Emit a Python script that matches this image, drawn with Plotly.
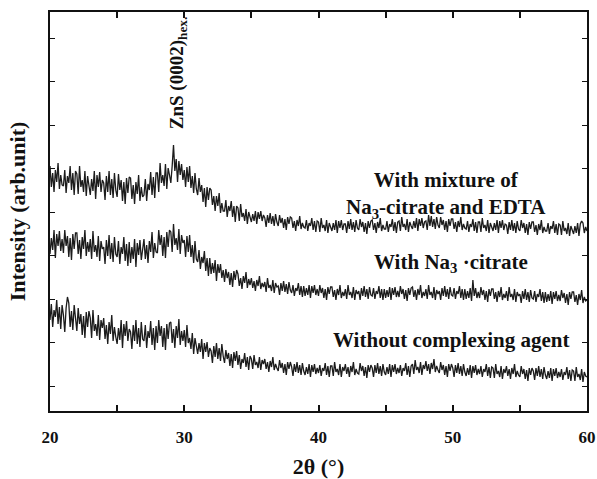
import plotly.graph_objects as go

# 2-theta grid: 20.0 .. 60.0 in 0.1 steps (401 points)
two_theta = [round(20 + i * 0.1, 1) for i in range(401)]

mixture = [
245, 224, 238, 219, 241, 229, 248, 222, 236, 226,
225, 241, 218, 235, 228, 245, 221, 238, 216, 240,
237, 217, 245, 224, 231, 219, 240, 215, 235, 227,
216, 232, 220, 240, 212, 236, 224, 239, 219, 231,
228, 211, 235, 219, 240, 216, 232, 213, 238, 221,
214, 237, 221, 231, 210, 229, 207, 233, 218, 234,
233, 212, 226, 207, 229, 217, 236, 210, 224, 214,
216, 232, 210, 227, 221, 239, 216, 234, 213, 238,
238, 219, 248, 228, 236, 225, 247, 222, 243, 236,
228, 245, 266, 240, 252, 229, 250, 236, 247, 231,
241, 224, 244, 229, 245, 223, 235, 218, 238, 222,
216, 233, 219, 226, 209, 223, 204, 224, 211, 223,
221, 206, 215, 200, 215, 205, 218, 198, 208, 200,
200, 211, 194, 205, 200, 210, 194, 205, 189, 205,
203, 190, 207, 194, 198, 190, 202, 187, 199, 194,
189, 197, 190, 200, 187, 199, 192, 200, 190, 196,
193, 184, 196, 188, 198, 187, 195, 185, 197, 189,
185, 196, 188, 193, 183, 192, 181, 194, 187, 194,
193, 183, 190, 180, 191, 185, 195, 182, 188, 184,
183, 191, 180, 188, 185, 193, 181, 190, 179, 190,
189, 179, 193, 183, 186, 180, 191, 178, 188, 184,
180, 188, 181, 191, 178, 190, 183, 191, 181, 187,
187, 178, 190, 182, 192, 181, 189, 179, 191, 183,
181, 192, 184, 189, 179, 188, 177, 190, 183, 190,
191, 181, 188, 178, 189, 183, 193, 180, 186, 182,
182, 190, 179, 187, 184, 192, 180, 189, 178, 189,
190, 180, 194, 184, 187, 181, 192, 179, 189, 185,
182, 190, 183, 193, 180, 192, 185, 193, 183, 189,
190, 181, 196, 185, 195, 184, 192, 182, 194, 186,
183, 194, 186, 191, 181, 190, 179, 192, 185, 192,
192, 182, 189, 179, 190, 184, 194, 181, 187, 183,
182, 190, 179, 187, 184, 192, 180, 189, 178, 189,
189, 179, 193, 183, 186, 180, 191, 178, 188, 184,
180, 188, 181, 191, 178, 190, 183, 191, 181, 187,
186, 177, 189, 181, 191, 180, 188, 178, 190, 182,
180, 191, 183, 188, 178, 187, 176, 189, 182, 189,
189, 179, 186, 176, 187, 181, 191, 178, 184, 180,
180, 188, 177, 185, 182, 190, 178, 187, 176, 187,
186, 176, 190, 180, 183, 177, 188, 175, 185, 181,
177, 185, 178, 188, 175, 187, 190, 188, 178, 184,
180]

na3_citrate = [
157, 173, 161, 181, 153, 177, 165, 180, 160, 172,
158, 181, 165, 175, 154, 173, 151, 177, 162, 178,
178, 157, 171, 152, 174, 162, 181, 155, 169, 159,
172, 152, 180, 159, 166, 154, 175, 150, 170, 162,
164, 147, 171, 155, 176, 152, 168, 149, 174, 157,
154, 170, 147, 164, 157, 174, 150, 167, 145, 169,
148, 164, 152, 172, 144, 168, 156, 171, 151, 163,
172, 152, 166, 148, 170, 159, 179, 153, 168, 159,
158, 181, 166, 176, 155, 174, 153, 179, 164, 181,
179, 159, 187, 166, 173, 161, 182, 157, 176, 168,
171, 154, 175, 159, 176, 154, 166, 148, 170, 152,
149, 161, 142, 154, 148, 160, 140, 153, 135, 153,
137, 148, 138, 151, 130, 147, 138, 147, 133, 141,
129, 142, 133, 139, 126, 138, 124, 140, 131, 141,
137, 125, 133, 122, 135, 128, 139, 123, 132, 126,
133, 123, 130, 120, 131, 125, 135, 122, 128, 124,
129, 119, 133, 123, 126, 120, 131, 118, 128, 124,
125, 116, 128, 120, 130, 119, 127, 117, 129, 121,
118, 126, 115, 123, 120, 128, 116, 125, 114, 125,
115, 123, 116, 126, 113, 125, 118, 126, 116, 122,
115, 126, 118, 123, 113, 122, 111, 124, 117, 124,
124, 114, 121, 111, 122, 116, 126, 113, 119, 115,
122, 112, 126, 116, 119, 113, 124, 111, 121, 117,
120, 111, 123, 115, 125, 114, 122, 112, 124, 116,
115, 123, 112, 120, 117, 125, 113, 122, 111, 122,
113, 121, 114, 124, 111, 123, 116, 124, 114, 120,
114, 125, 117, 122, 112, 121, 110, 123, 116, 123,
124, 114, 121, 111, 122, 116, 126, 113, 119, 115,
122, 112, 126, 116, 119, 113, 124, 111, 121, 117,
120, 111, 123, 115, 125, 114, 122, 112, 124, 116,
115, 123, 112, 120, 117, 125, 113, 122, 111, 122,
112, 120, 113, 123, 110, 131, 115, 123, 113, 119,
113, 124, 116, 121, 111, 120, 109, 122, 115, 122,
122, 112, 119, 109, 120, 114, 124, 111, 117, 113,
120, 110, 124, 114, 117, 111, 122, 109, 119, 115,
117, 108, 120, 112, 122, 111, 119, 109, 121, 113,
112, 120, 109, 117, 114, 122, 110, 119, 108, 119,
109, 117, 110, 120, 107, 119, 112, 120, 110, 116,
110, 121, 113, 118, 108, 117, 106, 119, 112, 119,
119, 109, 116, 106, 117, 111, 121, 108, 114, 110,
111]

no_agent = [
91, 107, 84, 101, 94, 111, 87, 104, 82, 106,
96, 79, 103, 114, 108, 84, 100, 81, 106, 89,
80, 103, 87, 97, 76, 95, 73, 99, 84, 100,
93, 73, 101, 80, 87, 75, 96, 71, 91, 83,
93, 72, 86, 67, 89, 77, 96, 70, 84, 74,
67, 83, 71, 91, 63, 87, 75, 90, 70, 82,
79, 62, 86, 70, 91, 67, 83, 64, 89, 72,
70, 86, 63, 80, 73, 90, 66, 83, 61, 85,
68, 91, 75, 85, 64, 83, 61, 87, 72, 88,
89, 68, 82, 63, 85, 73, 92, 66, 80, 70,
81, 64, 86, 68, 73, 62, 78, 57, 73, 65,
57, 68, 59, 72, 52, 68, 59, 69, 54, 63,
60, 48, 65, 54, 68, 52, 63, 50, 67, 55,
48, 61, 52, 58, 45, 57, 43, 59, 50, 60,
46, 56, 42, 52, 48, 58, 44, 54, 41, 55,
52, 42, 56, 46, 49, 43, 54, 41, 51, 47,
52, 42, 49, 39, 50, 44, 54, 41, 47, 43,
40, 51, 43, 48, 38, 47, 36, 49, 42, 49,
44, 35, 47, 39, 49, 38, 46, 36, 48, 40,
36, 44, 37, 47, 34, 46, 39, 47, 37, 43,
38, 46, 35, 43, 40, 48, 36, 45, 34, 45,
45, 35, 49, 39, 42, 36, 47, 34, 44, 40,
47, 37, 44, 34, 45, 39, 49, 36, 42, 38,
37, 48, 40, 45, 35, 44, 33, 46, 39, 46,
43, 34, 46, 38, 48, 37, 45, 35, 47, 39,
36, 44, 37, 47, 34, 46, 39, 47, 37, 43,
38, 46, 35, 43, 40, 48, 36, 45, 34, 45,
47, 37, 51, 41, 44, 38, 49, 36, 46, 42,
50, 40, 47, 37, 48, 42, 52, 39, 45, 41,
38, 49, 41, 46, 36, 45, 34, 47, 40, 47,
43, 34, 46, 38, 48, 37, 45, 35, 47, 39,
35, 43, 36, 46, 33, 45, 38, 46, 36, 42,
37, 45, 34, 42, 39, 47, 35, 44, 33, 44,
43, 33, 47, 37, 40, 34, 45, 32, 42, 38,
45, 35, 42, 32, 43, 37, 47, 34, 40, 36,
34, 45, 37, 42, 32, 41, 30, 43, 36, 43,
40, 31, 43, 35, 45, 34, 42, 32, 44, 36,
32, 40, 33, 43, 30, 42, 35, 43, 33, 39,
34, 42, 31, 39, 36, 44, 32, 41, 30, 41,
40, 30, 44, 34, 37, 31, 42, 29, 39, 35,
34]

x_ticks = [20, 30, 40, 50, 60]

FONT = "Liberation Serif"
INK = "#111111"
LINE = "#1c1c1c"

fig = go.Figure()
for ys in (mixture, na3_citrate, no_agent):
    fig.add_trace(go.Scatter(x=two_theta, y=ys, mode="lines",
                             line=dict(color=LINE, width=1.3),
                             showlegend=False, hoverinfo="skip"))

fig.add_annotation(x=29.55, y=338, xref="x", yref="y", text="<b>ZnS (0002)<sub>hex.</sub></b>",
                   textangle=-90, showarrow=False, font=dict(family=FONT, size=19, color=INK))
fig.add_annotation(x=49.5, y=216, xref="x", yref="y",
                   text="<b>With mixture of</b><br><b>Na<sub>3</sub>-citrate and EDTA</b>",
                   showarrow=False, align="center", font=dict(family=FONT, size=21, color=INK))
fig.add_annotation(x=49.9, y=148, xref="x", yref="y", text="<b>With Na<sub>3</sub> ·citrate</b>",
                   showarrow=False, font=dict(family=FONT, size=21, color=INK))
fig.add_annotation(x=49.9, y=71, xref="x", yref="y", text="<b>Without complexing agent</b>",
                   showarrow=False, font=dict(family=FONT, size=21, color=INK))

fig.update_layout(
    width=597, height=479,
    margin=dict(l=50, r=10, t=12, b=68),
    paper_bgcolor="white", plot_bgcolor="white",
    font=dict(family=FONT, color=INK),
    xaxis=dict(range=[20, 60], tickmode="array", tickvals=x_ticks,
               ticktext=[f"<b>{v}</b>" for v in x_ticks],
               ticks="inside", ticklen=6, tickwidth=1.5, tickcolor=INK,
               ticklabelstandoff=10, ticklabeloverflow="allow",
               minor=dict(ticks="inside", dtick=5, tick0=25, ticklen=6, tickwidth=1.5,
                          tickcolor=INK, showgrid=False),
               showline=True, linecolor=INK, linewidth=2, mirror="allticks",
               showgrid=False, zeroline=False, automargin=False,
               tickfont=dict(family=FONT, size=17, color=INK),
               title=dict(text="<b>2θ (°)</b>", font=dict(family=FONT, size=22, color=INK), standoff=18)),
    yaxis=dict(range=[0, 399], tickmode="linear", tick0=25, dtick=43.5,
               showticklabels=False, ticks="inside", ticklen=5, tickwidth=1.2, tickcolor=INK,
               showline=True, linecolor=INK, linewidth=2, mirror="allticks",
               showgrid=False, zeroline=False, automargin=False,
               title=dict(text="<b>Intensity (arb.unit)</b>", font=dict(family=FONT, size=22, color=INK), standoff=16)),
)

# remove the default page margin so the 597x479 figure fills the window exactly
fig.write_html("out.html", config={"displayModeBar": False},
               post_script="document.body.style.margin='0';document.body.style.overflow='hidden';")
